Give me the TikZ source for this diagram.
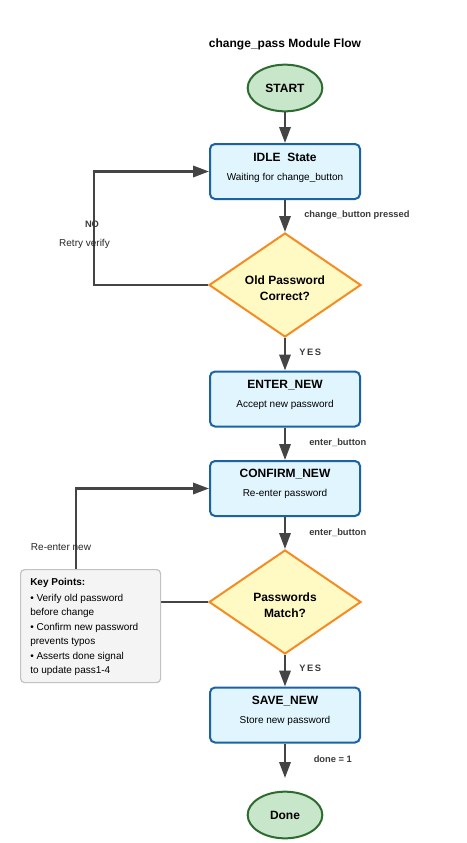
\documentclass[tikz,border=0pt]{standalone}
\usepackage{fontspec}
\setmainfont{Liberation Sans}
\usetikzlibrary{shapes.geometric,arrows.meta}

\definecolor{statefill}{HTML}{E1F5FE}
\definecolor{stateline}{HTML}{1A62A3}
\definecolor{decfill}{HTML}{FFF9C4}
\definecolor{decline}{HTML}{F58C23}
\definecolor{termfill}{HTML}{C8E6C9}
\definecolor{termline}{HTML}{2E6B30}
\definecolor{flow}{HTML}{444444}
\definecolor{notefill}{HTML}{F4F4F4}
\definecolor{noteline}{HTML}{C2C2C2}
\definecolor{lbltext}{HTML}{3A3A3A}

\begin{document}
\begin{tikzpicture}[x=0.75pt,y=-0.75pt,
  statebox/.style={rectangle, rounded corners=3.75pt, draw=stateline, fill=statefill,
    line width=1.5pt, minimum width=112.5pt, minimum height=41.25pt, inner sep=0pt},
  decision/.style={diamond, draw=decline, fill=decfill, line width=1.5pt,
    minimum width=114pt, minimum height=78pt, inner sep=0pt},
  terminal/.style={ellipse, draw=termline, fill=termfill, line width=1.5pt,
    minimum width=56pt, minimum height=35pt, inner sep=0pt,
    font=\bfseries\fontsize{9}{11}\selectfont},
  ttl/.style={font=\bfseries\fontsize{9}{11}\selectfont, inner sep=0pt},
  sub/.style={font=\fontsize{7.5}{9}\selectfont, inner sep=0pt},
  dectext/.style={font=\bfseries\fontsize{9}{12}\selectfont, align=center, inner sep=0pt},
  edgelbl/.style={font=\bfseries\fontsize{7}{8.5}\selectfont, text=lbltext, inner sep=0pt, anchor=west},
  looplbl/.style={font=\fontsize{7.5}{9}\selectfont, text=black!85, inner sep=0pt},
  flowarrow/.style={draw=flow, line width=1.8pt, -{Triangle[length=12pt,width=8.5pt]}},
  note/.style={rectangle, rounded corners=3pt, draw=noteline, fill=notefill, line width=0.9pt,
    minimum width=105pt, minimum height=84.75pt, inner sep=0pt, anchor=north west}
]
\useasboundingbox (0,0) rectangle (467,843);

% heading
\node[ttl] (heading) at (285,44) {change\_pass Module Flow};

% terminals, states and decisions
\node[terminal] (start) at (285,88) {START};
\node[statebox] (idle) at (285,171.5) {};
\node[ttl] (idle-t) at (285,157) {IDLE\ \ State};
\node[sub] (idle-s) at (285,178) {Waiting for change\_button};

\node[decision] (oldok) at (285,285) {};
\node[dectext] (oldok-t) at (285,288) {Old Password\\Correct?};

\node[statebox] (enter) at (285,399) {};
\node[ttl] (enter-t) at (285,385) {ENTER\_NEW};
\node[sub] (enter-s) at (285,405) {Accept new password};

\node[statebox] (confirm) at (285,488.5) {};
\node[ttl] (confirm-t) at (285,474) {CONFIRM\_NEW};
\node[sub] (confirm-s) at (285,494) {Re-enter password};

\node[decision] (match) at (285,602) {};
\node[dectext] (match-t) at (285,605) {Passwords\\Match?};

\node[statebox] (save) at (285,715) {};
\node[ttl] (save-t) at (285,701) {SAVE\_NEW};
\node[sub] (save-s) at (285,721) {Store new password};

\node[terminal] (done) at (285,815) {Done};
\coordinate (doneend) at (285,778);

% main flow
\draw[flowarrow] (start) -- (idle);
\draw[flowarrow] (idle) -- (oldok);
\draw[flowarrow] (oldok) -- (enter);
\draw[flowarrow] (enter) -- (confirm);
\draw[flowarrow] (confirm) -- (match);
\draw[flowarrow] (match) -- (save);
\draw[flowarrow] (save) -- (doneend);

\node[edgelbl] (l-press) at (304,215) {change\_button pressed};
\node[edgelbl] (l-yes1) at (299,352.5) {Y\,E\,S};
\node[edgelbl] (l-ent1) at (309,442.5) {enter\_button};
\node[edgelbl] (l-ent2) at (309,533) {enter\_button};
\node[edgelbl] (l-yes2) at (299,668.5) {Y\,E\,S};
\node[edgelbl] (l-done) at (313.5,759.5) {done = 1};

% retry loops
\draw[flowarrow] (oldok.west) -- ++(-114,0) |- (idle.west);
\node[edgelbl, anchor=center] (l-no) at (92,224.5) {NO};
\node[looplbl] (l-retry) at (84.5,244) {Retry verify};

\draw[flowarrow] (match.west) -- ++(-132,0) |- (confirm.west);
\node[looplbl] (l-reenter) at (61,547) {Re-enter new};

% notes
\node[note] (keybox) at (20,569) {};
\node[font=\fontsize{7.5}{10.3}\selectfont, align=left, anchor=north west, inner sep=0pt]
  (keytext) at (30,578.3) {\textbf{Key Points:}\\[1.8pt]
  • Verify old password\\ before change\\[0.9pt]
  • Confirm new password\\ prevents typos\\[0.9pt]
  • Asserts done signal\\ to update pass1-4};
\end{tikzpicture}
\end{document}
